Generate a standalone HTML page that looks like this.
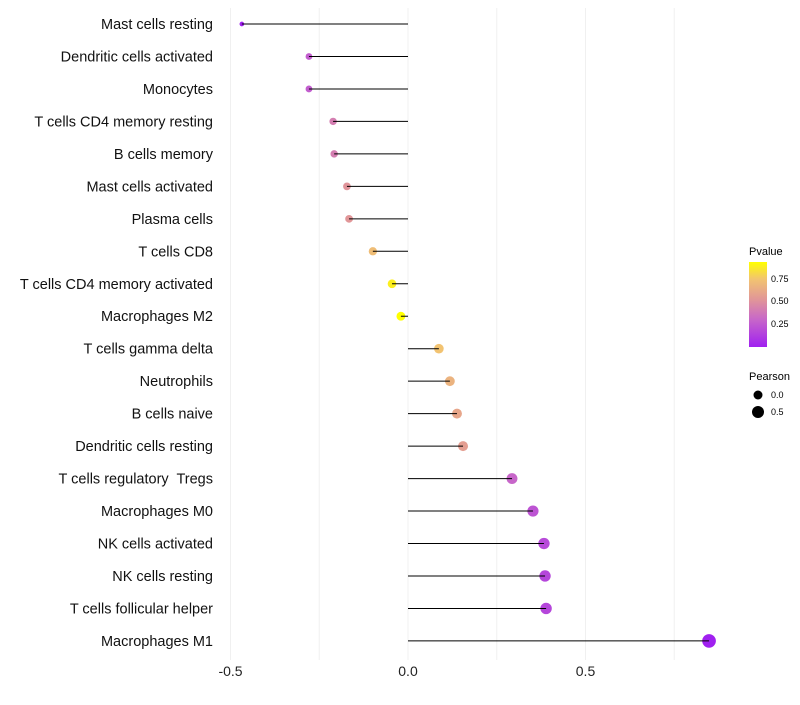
<!DOCTYPE html>
<html><head><meta charset="utf-8"><style>
body{margin:0;background:#fff;font-family:"Liberation Sans",sans-serif}
text{white-space:pre}
</style></head><body>
<svg id="c" width="800" height="700" xmlns="http://www.w3.org/2000/svg">
<defs><linearGradient id="pg" x1="0" y1="1" x2="0" y2="0">
<stop offset="0" stop-color="#A020F0"/><stop offset="0.33" stop-color="#C868C8"/><stop offset="0.55" stop-color="#E0949A"/><stop offset="0.8" stop-color="#F2C470"/><stop offset="1" stop-color="#FFFF00"/></linearGradient></defs>
<g id="grid"></g><g id="marks"></g><g id="labels"></g>
<g font-family="Liberation Sans, sans-serif">
<text x="749" y="255" font-size="11">Pvalue</text>
<rect x="749" y="262" width="18" height="85" fill="url(#pg)"/>
<text x="771" y="282" font-size="9">0.75</text>
<text x="771" y="304" font-size="9">0.50</text>
<text x="771" y="327" font-size="9">0.25</text>
<text x="749" y="380" font-size="11">Pearson</text>
<circle cx="758" cy="395" r="4.5" fill="#000"/>
<text x="771" y="398" font-size="9">0.0</text>
<circle cx="758" cy="412" r="6" fill="#000"/>
<text x="771" y="415" font-size="9">0.5</text>
</g>
</svg>
<script>
const categories=["Mast cells resting","Dendritic cells activated","Monocytes","T cells CD4 memory resting","B cells memory","Mast cells activated","Plasma cells","T cells CD8","T cells CD4 memory activated","Macrophages M2","T cells gamma delta","Neutrophils","B cells naive","Dendritic cells resting","T cells regulatory  Tregs","Macrophages M0","NK cells activated","NK cells resting","T cells follicular helper","Macrophages M1"];
const pearson=[-0.468,-0.279,-0.279,-0.211,-0.208,-0.172,-0.166,-0.099,-0.045,-0.020,0.087,0.118,0.138,0.155,0.293,0.352,0.383,0.386,0.389,0.848];
const pvalues=[0.04,0.30,0.30,0.45,0.45,0.55,0.56,0.75,0.92,0.97,0.78,0.70,0.64,0.60,0.34,0.26,0.22,0.20,0.20,0.04];
const xTicks=[-0.5,0,0.5];
const xTickLabels=["-0.5","0.0","0.5"];
const gridVals=[-0.5,-0.25,0,0.25,0.5,0.75];
const ns="http://www.w3.org/2000/svg";
const X=v=>408+v*355;
const Y=i=>24+i*32.47;
const stops=[[0,[0xA0,0x20,0xF0]],[0.33,[0xC8,0x68,0xC8]],[0.55,[0xE0,0x94,0x9A]],[0.8,[0xF2,0xC4,0x70]],[1,[0xFF,0xFF,0x00]]];
function col(p){let t=(p-0.04)/(0.97-0.04);t=Math.max(0,Math.min(1,t));
for(let k=0;k<stops.length-1;k++){const[a,ca]=stops[k],[b,cb]=stops[k+1];if(t<=b){const u=(t-a)/(b-a);return "rgb("+ca.map((c,j)=>Math.round(c+(cb[j]-c)*u)).join(",")+")";}}return "#ff0";}
const R=v=>Math.sqrt(Math.max(4,20.25+31.5*v));
function mk(tag,at,par){const e=document.createElementNS(ns,tag);for(const k in at)e.setAttribute(k,at[k]);document.getElementById(par).appendChild(e);return e;}
gridVals.forEach(v=>{const l=mk("line",{x1:X(v),x2:X(v),y1:8,y2:660,stroke:"#f0f0f0","stroke-width":1},"grid");

});
xTicks.forEach((v,i)=>{const t=mk("text",{x:X(v),y:676,"font-size":14,"text-anchor":"middle",fill:"#222"},"labels");t.textContent=xTickLabels[i];

});
categories.forEach((c,i)=>{
const t=mk("text",{x:213,y:Y(i)+5,"font-size":14.5,"text-anchor":"end",fill:"#111"},"labels");t.textContent=c;


const d=mk("circle",{cx:X(pearson[i]),cy:Y(i),r:R(pearson[i]),fill:col(pvalues[i])},"marks");


const l=mk("line",{x1:X(0),x2:X(pearson[i]),y1:Y(i),y2:Y(i),stroke:"#000","stroke-width":1},"marks");


});
</script>
</body></html>
